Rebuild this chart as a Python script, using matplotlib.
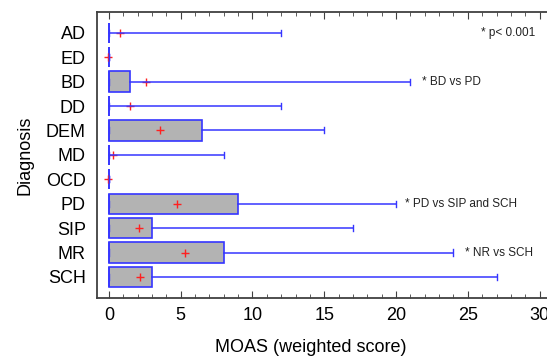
import matplotlib.pyplot as plt
from matplotlib.ticker import MultipleLocator

plt.rcParams['font.family'] = ['Liberation Sans', 'DejaVu Sans']

# diagnosis groups, top to bottom
groups = ['AD', 'ED', 'BD', 'DD', 'DEM', 'MD', 'OCD', 'PD', 'SIP', 'MR', 'SCH']
q1 = [0, 0, 0, 0, 0, 0, 0, 0, 0, 0, 0]
med = [0, 0, 0, 0, 0, 0, 0, 0, 0, 0, 0]
q3 = [0, 0, 1.5, 0, 6.5, 0, 0, 9, 3, 8, 3]
whis_lo = [0, 0, 0, 0, 0, 0, 0, 0, 0, 0, 0]
whis_hi = [12, 0, 21, 12, 15, 8, 0, 20, 17, 24, 27]
means = [0.8, -0.05, 2.55, 1.5, 3.55, 0.25, -0.05, 4.75, 2.1, 5.3, 2.15]

notes = {'AD': '* p< 0.001', 'BD': '* BD vs PD',
         'PD': '* PD vs SIP and SCH', 'MR': '* NR vs SCH'}
note_x = {'AD': 25.9, 'BD': 21.8, 'PD': 20.6, 'MR': 24.8}

blue = '#3535ff'
spine = '#404040'

stats = []
for i, g in enumerate(groups):
    stats.append(dict(label=g, q1=q1[i], med=med[i], q3=q3[i],
                      whislo=whis_lo[i], whishi=whis_hi[i], fliers=[]))

fig = plt.figure(figsize=(5.47, 3.56), dpi=100)
ax = fig.add_axes([97 / 547, (356 - 297.7) / 356, 457 / 547, (297.7 - 12) / 356])

pos = list(range(len(groups)))
ax.bxp(stats, positions=pos, vert=False, widths=0.83, capwidths=0.25,
       patch_artist=True, showfliers=False,
       boxprops=dict(facecolor='#b3b3b3', edgecolor=blue, linewidth=1.2),
       whiskerprops=dict(color=blue, linewidth=1.1, zorder=4),
       capprops=dict(color=blue, linewidth=1.0, zorder=4),
       medianprops=dict(color=blue, linewidth=1.2))
ax.plot(means, pos, linestyle='none', marker='+', color='#ff2020',
        markersize=5.5, markeredgewidth=1.0, zorder=3)

for g, txt in notes.items():
    ax.text(note_x[g], groups.index(g), txt, fontsize=8.5, va='center',
            ha='left', color='#222222')

ax.set_xlim(-0.83, 31)
ax.set_ylim(len(groups) - 0.15, -0.85)
ax.set_yticks(pos)
ax.set_yticklabels(groups)
ax.xaxis.set_major_locator(MultipleLocator(5))
ax.xaxis.set_minor_locator(MultipleLocator(1))
ax.tick_params(axis='y', length=0, labelsize=13, pad=8)
ax.tick_params(axis='x', which='both', direction='in', top=True,
               labelsize=13, pad=7, color=spine)
ax.tick_params(axis='x', which='major', length=5)
ax.tick_params(axis='x', which='minor', length=3)
for s in ['left', 'bottom', 'top']:
    ax.spines[s].set_color(spine)
    ax.spines[s].set_linewidth(1.3)
ax.spines['right'].set_visible(False)

ax.set_xlabel('MOAS (weighted score)', fontsize=13)
ax.xaxis.set_label_coords(0.468, -0.146)
ax.set_ylabel('Diagnosis', fontsize=13)
ax.yaxis.set_label_coords(-0.14, 0.5)

fig.savefig('out.png', dpi=100)
